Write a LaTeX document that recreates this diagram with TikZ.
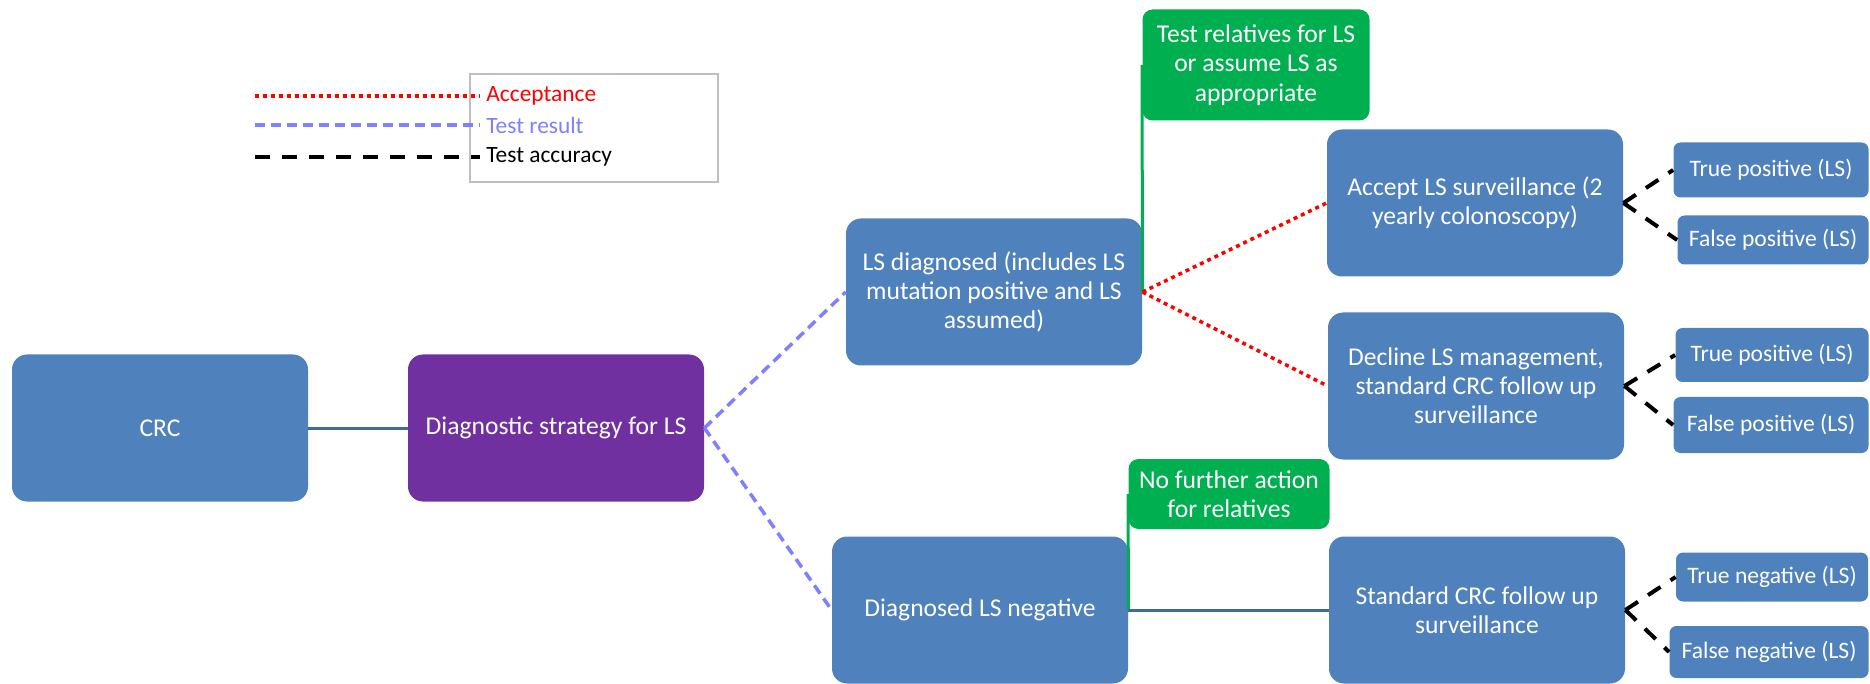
\documentclass[tikz,border=0pt]{standalone}
\usepackage{fontspec}
\setmainfont{Carlito}
\usepackage{tikz}
\usetikzlibrary{calc}

\definecolor{boxblue}{HTML}{4F81BD}
\definecolor{boxpurple}{HTML}{7030A0}
\definecolor{boxgreen}{HTML}{00B050}
\definecolor{linkblue}{HTML}{3F6A9E}
\definecolor{resultblue}{HTML}{7F7FFF}
\definecolor{legendgray}{HTML}{BFBFBF}

\begin{document}
\begin{tikzpicture}[x=0.5pt, y=-0.5pt,
    box/.style={fill=boxblue, rounded corners=7.5pt, text=white, align=center,
        inner sep=2pt, minimum width=148pt, minimum height=73.5pt,
        font=\fontsize{12.8}{14.6}\selectfont},
    smallbox/.style={box, rounded corners=3.5pt, minimum height=26pt,
        font=\fontsize{11.8}{14}\selectfont},
    notebox/.style={box, fill=boxgreen, rounded corners=5pt},
    solidlink/.style={draw=linkblue, line width=1.5pt},
    resultlink/.style={draw=resultblue, line width=1.75pt, dash pattern=on 5pt off 3pt},
    acceptlink/.style={draw=red, line width=1.75pt, dash pattern=on 2pt off 2pt},
    accuracylink/.style={draw=black, line width=2pt, dash pattern=on 7.5pt off 6pt},
    notelink/.style={draw=boxgreen, line width=1.5pt},
    legendtext/.style={anchor=west, inner sep=3pt, font=\fontsize{11.7}{14}\selectfont}]

    \useasboundingbox (0,0) rectangle (1870,684);

    \coordinate (C) at (160,428);
    \coordinate (S) at (556,428);
    \coordinate (P) at (994,292);
    \coordinate (N) at (980,610);
    \coordinate (A) at (1475,203);
    \coordinate (D) at (1476,386);
    \coordinate (F) at (1477,610);

    % Main boxes
    \node[box] (crc) at (C) {CRC};
    \node[box, fill=boxpurple] (strategy) at (S) {Diagnostic strategy for LS};
    \node[box] (lspos) at (P) {LS diagnosed (includes LS\\mutation positive and LS\\assumed)};
    \node[box] (lsneg) at (N) {Diagnosed LS negative};
    \node[box] (accept) at (A) {Accept LS surveillance (2\\yearly colonoscopy)};
    \node[box] (decline) at (D) {Decline LS management,\\standard CRC follow up\\surveillance};
    \node[box] (standard) at (F) {Standard CRC follow up\\surveillance};

    % Relatives
    \node[notebox, minimum width=113.5pt, minimum height=55.5pt] (relpos) at (1256,65) {Test relatives for LS\\or assume LS as\\appropriate};
    \node[notebox, minimum width=100.5pt, minimum height=35pt] (relneg) at (1229,494) {No further action\\for relatives};

    % Outcomes
    \node[smallbox, minimum width=97.5pt, minimum height=27.5pt] (tp1) at (1771,170) {True positive (LS)};
    \node[smallbox, minimum width=95.5pt, minimum height=24.5pt] (fp1) at (1773,240) {False positive (LS)};
    \node[smallbox, minimum width=96.5pt, minimum height=27pt] (tp2) at (1772,355) {True positive (LS)};
    \node[smallbox, minimum width=97.5pt, minimum height=28pt] (fp2) at (1771,425) {False positive (LS)};
    \node[smallbox, minimum width=96pt, minimum height=24.5pt] (tn) at (1772,577) {True negative (LS)};
    \node[smallbox, minimum width=99.5pt, minimum height=26pt] (fn) at (1769,652) {False negative (LS)};

    % Connectors
    \draw[solidlink] (crc) -- (strategy);
    \draw[resultlink] (strategy.east) -- (lspos.west);
    \draw[resultlink] (strategy.east) -- (lsneg.west);
    \draw[notelink] (relpos.west) -- (lspos.east);
    \draw[notelink] (relneg.west) -- (lsneg.east);
    \draw[acceptlink] (lspos.east) -- (accept.west);
    \draw[acceptlink] (lspos.east) -- (decline.west);
    \draw[solidlink] (lsneg) -- (standard);
    \draw[accuracylink] (accept.east) -- (tp1.west);
    \draw[accuracylink] (accept.east) -- (fp1.west);
    \draw[accuracylink] (decline.east) -- (tp2.west);
    \draw[accuracylink] (decline.east) -- (fp2.west);
    \draw[accuracylink] (standard.east) -- (tn.west);
    \draw[accuracylink] (standard.east) -- (fn.west);

    % Legend
    \draw[legendgray, line width=0.6pt] (470,74) rectangle (718,182);
    \coordinate (accL) at (255,96);
    \coordinate (resL) at (255,125);
    \coordinate (accuL) at (255,157);
    \node[legendtext, text=red] (accT) at (480,96) {Acceptance};
    \node[legendtext, text=resultblue] (resT) at (480,125) {Test result};
    \node[legendtext] (accuT) at (480,157) {Test accuracy};
    \draw[acceptlink] (accL) -- (accT.west);
    \draw[resultlink] (resL) -- (resT.west);
    \draw[accuracylink] (accuL) -- (accuT.west);

\end{tikzpicture}
\end{document}
